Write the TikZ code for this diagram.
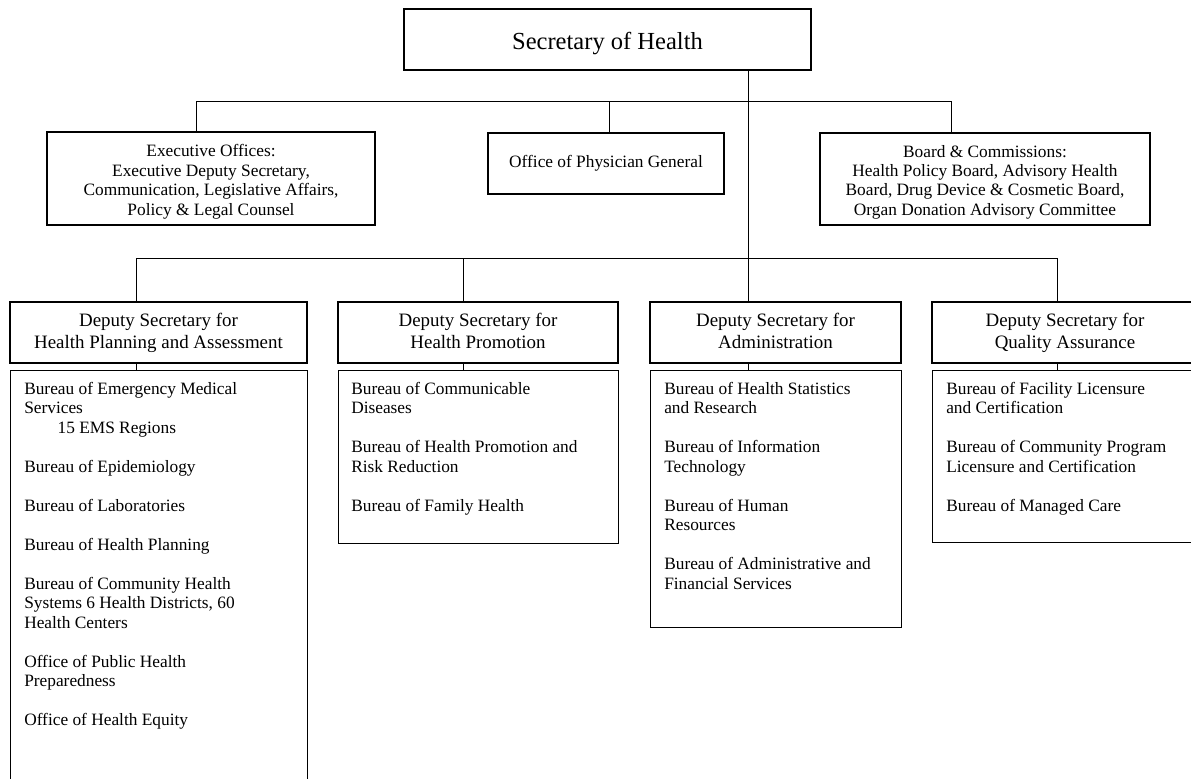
\documentclass[tikz,border=0pt]{standalone}
\usepackage{fontspec}
\setmainfont{Liberation Serif}
\begin{document}
\begin{tikzpicture}[x=0.75pt,y=-0.75pt,
  box/.style={draw, line width=1.1pt, inner sep=0pt, align=center},
  conn/.style={line width=0.75pt},
  body/.style={font=\fontsize{13}{14.6}\selectfont},
  head/.style={font=\fontsize{14.2}{16.5}\selectfont},
  boxtext/.style={body, inner sep=0pt, align=center, yshift=-2.3pt},
  headtext/.style={head, inner sep=0pt, align=center, yshift=-1pt},
  list/.style={body, anchor=north west, inner sep=0pt, align=left}]
\useasboundingbox (0,0) rectangle (1191,778);
\clip (0,0) rectangle (1191,778);
\fill[white] (0,0) rectangle (1191,778);

% top level
\node[box, minimum width=305.25pt, minimum height=45.75pt, text height=14.6pt, text depth=0pt, font=\fontsize{18.4}{22}\selectfont] (sec) at (607.5,39.5) {Secretary of Health};

\node[box, minimum width=246pt, minimum height=69.75pt] (exec) at (211,178.5) {};
\node[boxtext] (exect) at (exec)
  {Executive Offices:\\Executive Deputy Secretary,\\Communication, Legislative Affairs,\\Policy \& Legal Counsel};
\node[box, body, minimum width=177pt, minimum height=45.75pt] (phys) at (606,163.5)
  {Office of Physician General};
\node[box, minimum width=247.5pt, minimum height=69pt] (board) at (985,179) {};
\node[boxtext] (boardt) at (board)
  {Board \& Commissions:\\Health Policy Board, Advisory Health\\Board, Drug Device \& Cosmetic Board,\\Organ Donation Advisory Committee};

% deputy secretaries
\node[box, minimum width=222.75pt, minimum height=45.75pt] (ds1) at (158.5,332.5) {};
\node[headtext] (ds1t) at (ds1) {Deputy Secretary for\\Health Planning and Assessment\strut};
\node[box, minimum width=210pt, minimum height=45.75pt] (ds2) at (478,332.5) {};
\node[headtext] (ds2t) at (ds2) {Deputy Secretary for\\Health Promotion\strut};
\node[box, minimum width=188.25pt, minimum height=45.75pt] (ds3) at (775.5,332.5) {};
\node[headtext] (ds3t) at (ds3) {Deputy Secretary for\\Administration\strut};
\node[box, minimum width=199.5pt, minimum height=45.75pt] (ds4) at (1065,332.5) {};
\node[headtext] (ds4t) at (ds4) {Deputy Secretary for\\Quality Assurance\strut};

% bureau boxes
\node[box, anchor=north west, minimum width=222.75pt, minimum height=322.5pt] (bu1) at (10,370) {};
\node[box, anchor=north west, minimum width=210pt, minimum height=129.75pt] (bu2) at (338,370) {};
\node[box, anchor=north west, minimum width=188.25pt, minimum height=192.75pt] (bu3) at (650,370) {};
\node[box, anchor=north west, minimum width=199.5pt, minimum height=129pt] (bu4) at (932,370) {};

\node[list] (t1) at ([shift={(14,12)}]bu1.north west)
  {Bureau of Emergency Medical\\
   Services\\
   \hspace*{25pt}15 EMS Regions\\[14.6pt]
   Bureau of Epidemiology\\[14.6pt]
   Bureau of Laboratories\\[14.6pt]
   Bureau of Health Planning\\[14.6pt]
   Bureau of Community Health\\
   Systems 6 Health Districts, 60\\
   Health Centers\\[14.6pt]
   Office of Public Health\\
   Preparedness\\[14.6pt]
   Office of Health Equity};
\node[list] (t2) at ([shift={(13,12)}]bu2.north west)
  {Bureau of Communicable\\
   Diseases\\[14.6pt]
   Bureau of Health Promotion and\\
   Risk Reduction\\[14.6pt]
   Bureau of Family Health};
\node[list] (t3) at ([shift={(14,12)}]bu3.north west)
  {Bureau of Health Statistics\\
   and Research\\[14.6pt]
   Bureau of Information\\
   Technology\\[14.6pt]
   Bureau of Human\\
   Resources\\[14.6pt]
   Bureau of Administrative and\\
   Financial Services};
\node[list] (t4) at ([shift={(14,12)}]bu4.north west)
  {Bureau of Facility Licensure\\
   and Certification\\[14.6pt]
   Bureau of Community Program\\
   Licensure and Certification\\[14.6pt]
   Bureau of Managed Care};

% connectors
\coordinate (j1) at (748,101);
\coordinate (j2) at (748,258);
\coordinate (e1) at (196,101);
\coordinate (e2) at (609,101);
\coordinate (e3) at (951,101);
\coordinate (d1) at (136,258);
\coordinate (d2) at (463,258);
\coordinate (d4) at (1057,258);

\draw[conn] (sec.south -| j1) -- (j2);
\draw[conn] (e1) -- (e3);
\draw[conn] (e1) -- (e1 |- exec.north);
\draw[conn] (e2) -- (e2 |- phys.north);
\draw[conn] (e3) -- (e3 |- board.north);

\draw[conn] (d1) -- (d4);
\draw[conn] (d1) -- (d1 |- ds1.north);
\draw[conn] (d2) -- (d2 |- ds2.north);
\draw[conn] (j2) -- (j2 |- ds3.north);
\draw[conn] (d4) -- (d4 |- ds4.north);

\draw[conn] (d1 |- ds1.south) -- (d1 |- bu1.north);
\draw[conn] (d2 |- ds2.south) -- (d2 |- bu2.north);
\draw[conn] (j2 |- ds3.south) -- (j2 |- bu3.north);
\draw[conn] (d4 |- ds4.south) -- (d4 |- bu4.north);
\end{tikzpicture}
\end{document}
